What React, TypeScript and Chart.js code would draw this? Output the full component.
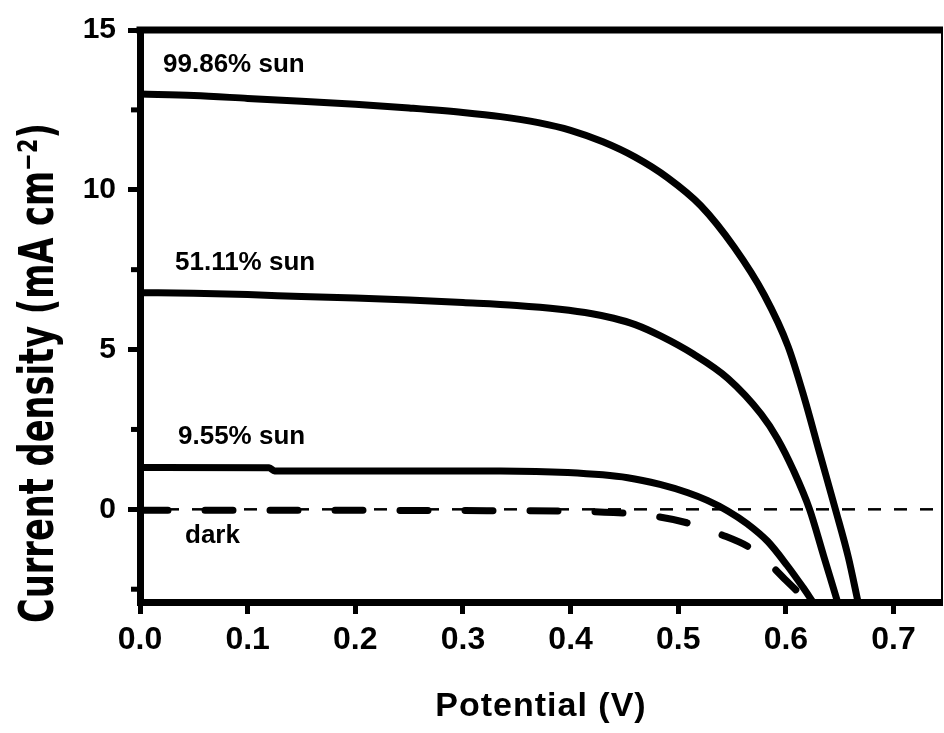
import { useEffect, useRef } from "react";
import { Chart, registerables } from "chart.js";
Chart.register(...registerables);

// 99.86% sun
const sun99V = [0, 0.05, 0.1, 0.15, 0.2, 0.25, 0.3, 0.335, 0.37, 0.4, 0.43, 0.46, 0.49, 0.521, 0.552, 0.58, 0.602, 0.617, 0.631, 0.646, 0.658, 0.667];
const sun99J = [13.0, 12.95, 12.86, 12.77, 12.68, 12.56, 12.42, 12.29, 12.1, 11.86, 11.5, 11.02, 10.38, 9.5, 8.2, 6.7, 5.1, 3.5, 1.8, 0.0, -1.5, -2.9];
// 51.11% sun
const sun51V = [0, 0.05, 0.1, 0.15, 0.2, 0.25, 0.3, 0.35, 0.39, 0.42, 0.44, 0.46, 0.484, 0.514, 0.546, 0.577, 0.592, 0.607, 0.622, 0.635, 0.648];
const sun51J = [6.78, 6.76, 6.72, 6.66, 6.61, 6.55, 6.47, 6.38, 6.26, 6.12, 5.98, 5.78, 5.42, 4.86, 4.1, 2.98, 2.22, 1.22, 0.0, -1.45, -2.9];
// 9.55% sun
const sun9V = [0, 0.12, 0.125, 0.2, 0.3, 0.335, 0.397, 0.453, 0.483, 0.509, 0.527, 0.546, 0.564, 0.583, 0.601, 0.616, 0.625];
const sun9J = [1.31, 1.3, 1.2, 1.2, 1.2, 1.2, 1.15, 0.99, 0.78, 0.52, 0.28, -0.05, -0.45, -1.0, -1.75, -2.45, -2.9];
// dark
const darkV = [0, 0.1, 0.2, 0.3, 0.39, 0.44, 0.477, 0.508, 0.539, 0.569, 0.584, 0.6, 0.615, 0.622];
const darkJ = [-0.03, -0.03, -0.03, -0.04, -0.05, -0.1, -0.21, -0.42, -0.78, -1.25, -1.68, -2.22, -2.7, -2.9];
// zero reference line
const zeroV = [0, 0.745];
const zeroJ = [0, 0];

const xTicks = [0, 0.1, 0.2, 0.3, 0.4, 0.5, 0.6, 0.7];
const yTicks = [0, 5, 10, 15];
const yMinorTicks = [-2.5, 2.5, 7.5, 12.5];

const labelTexts = ["99.86% sun", "51.11% sun", "9.55% sun", "dark"];
const labelV = [0.0214, 0.0325, 0.0353, 0.0418];
const labelJ = [13.69, 7.48, 2.03, -1.04];

const xTitle = "Potential (V)";
const yTitle = "Current density (mA cm\u207B\u00B2)";

const toPts = (xs: number[], ys: number[]) => xs.map((x, i) => ({ x, y: ys[i] }));

const decor = {
  id: "decor",
  beforeDraw(chart: any) {
    const ctx = chart.ctx;
    ctx.save();
    ctx.fillStyle = "#fff";
    ctx.fillRect(0, 0, chart.width, chart.height);
    ctx.restore();
  },
  afterDraw(chart: any) {
    const { ctx, chartArea: a, scales } = chart;
    ctx.save();
    ctx.strokeStyle = "#000";
    ctx.lineCap = "butt";
    ctx.lineWidth = 7;
    ctx.beginPath();
    ctx.moveTo(a.left - 3.5, a.top);
    ctx.lineTo(a.right + 1, a.top);
    ctx.stroke();
    ctx.lineWidth = 2;
    ctx.beginPath();
    ctx.moveTo(a.right, a.top);
    ctx.lineTo(a.right, a.bottom);
    ctx.stroke();
    ctx.lineWidth = 5;
    for (const v of yMinorTicks) {
      const y = scales.y.getPixelForValue(v);
      ctx.beginPath();
      ctx.moveTo(a.left - 9, y);
      ctx.lineTo(a.left, y);
      ctx.stroke();
    }
    ctx.fillStyle = "#000";
    ctx.font = "bold 26px 'Liberation Sans', Arial, sans-serif";
    ctx.textAlign = "left";
    ctx.textBaseline = "alphabetic";
    labelTexts.forEach((t, i) => {
      ctx.fillText(t, scales.x.getPixelForValue(labelV[i]), scales.y.getPixelForValue(labelJ[i]));
    });
    ctx.font = "bold 34px 'Liberation Sans', Arial, sans-serif";
    ctx.textAlign = "center";
    (ctx as any).letterSpacing = "1px";
    ctx.fillText(xTitle, (a.left + a.right) / 2, 716);
    (ctx as any).letterSpacing = "0px";
    ctx.font = "bold 48px 'DejaVu Sans Condensed', 'DejaVu Sans', sans-serif";
    const w = ctx.measureText(yTitle).width;
    const sx = 500 / w;
    ctx.translate(53, 373);
    ctx.rotate(-Math.PI / 2);
    ctx.scale(sx, 1);
    ctx.textAlign = "center";
    ctx.fillText(yTitle, 0, 0);
    ctx.restore();
  },
};

export default function App() {
  const ref = useRef<HTMLCanvasElement | null>(null);
  useEffect(() => {
    if (!ref.current) return;
    const curve = (xs: number[], ys: number[], extra: any = {}) => ({
      data: toPts(xs, ys),
      borderColor: "#000",
      borderWidth: 7,
      pointRadius: 0,
      cubicInterpolationMode: "monotone",
      fill: false,
      ...extra,
    });
    const chart = new Chart(ref.current, {
      type: "line",
      data: {
        datasets: [
          curve(zeroV, zeroJ, { borderWidth: 2.5, borderDash: [13, 13], cubicInterpolationMode: "default", tension: 0 }),
          curve(darkV, darkJ, { borderDash: [28, 37], borderCapStyle: "round" }),
          curve(sun9V, sun9J),
          curve(sun51V, sun51J),
          curve(sun99V, sun99J),
        ] as any,
      },
      options: {
        animation: false,
        responsive: false,
        devicePixelRatio: 1,
        layout: { padding: { left: 0, top: 30, right: 2, bottom: 0 } },
        plugins: { legend: { display: false }, tooltip: { enabled: false } },
        scales: {
          x: {
            type: "linear",
            min: 0,
            max: 0.745,
            afterBuildTicks: (s: any) => {
              s.ticks = xTicks.map((v) => ({ value: v }));
            },
            afterFit: (s: any) => {
              s.height = 131;
            },
            ticks: {
              callback: (v: any) => Number(v).toFixed(1),
              font: { family: "'Liberation Sans', Arial, sans-serif", weight: "bold", size: 32 },
              color: "#000",
              padding: 7,
              maxRotation: 0,
              autoSkip: false,
            },
            grid: { drawOnChartArea: false, drawTicks: true, tickLength: 12, tickWidth: 5, tickColor: "#000", color: "#000" },
            border: { display: true, color: "#000", width: 7 },
          },
          y: {
            type: "linear",
            min: -2.9,
            max: 15,
            afterBuildTicks: (s: any) => {
              s.ticks = yTicks.map((v) => ({ value: v }));
            },
            afterFit: (s: any) => {
              s.width = 140;
            },
            ticks: {
              callback: (v: any) => String(v),
              font: { family: "'Liberation Sans', Arial, sans-serif", weight: "bold", size: 30 },
              color: "#000",
              padding: 12,
              autoSkip: false,
            },
            grid: { drawOnChartArea: false, drawTicks: true, tickLength: 12, tickWidth: 5, tickColor: "#000", color: "#000" },
            border: { display: true, color: "#000", width: 7 },
          },
        },
      } as any,
      plugins: [decor],
    });
    return () => chart.destroy();
  }, []);
  return (
    <div style={{ position: "absolute", left: 0, top: 0, width: 944, height: 733 }}>
      <canvas ref={ref} width={944} height={733} style={{ width: 944, height: 733, display: "block" }} />
    </div>
  );
}
